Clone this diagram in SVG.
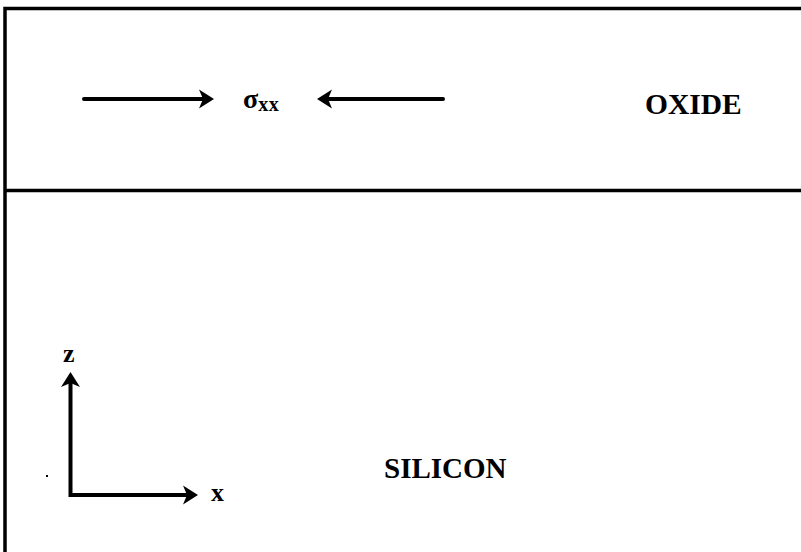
<svg xmlns="http://www.w3.org/2000/svg" width="801" height="552" viewBox="0 0 801 552">
  <style>
    .frame { stroke: #000; stroke-width: 3.5; fill: none; }
    .shaft { stroke: #000; stroke-width: 4; fill: none; stroke-linecap: round; }
    .head { fill: #000; }
    .label { font-family: "Liberation Serif", "Times New Roman", serif; font-weight: bold; fill: #000; }
  </style>
  <rect width="801" height="552" fill="#fff"/>

  <!-- layer boundaries -->
  <g id="layers">
    <path class="frame" d="M5,552 V8.5 H801"/>
    <path class="frame" d="M5,190.5 H801"/>
  </g>

  <g id="oxide">
    <text class="label" x="645" y="114" font-size="29.5">OXIDE</text>
  </g>

  <g id="silicon">
    <text class="label" x="384" y="478" font-size="29">SILICON</text>
  </g>

  <g id="stress">
    <text x="243" y="108" font-family="Liberation Serif, serif" font-size="28" font-weight="bold" fill="#000">σ<tspan font-size="20" dy="3" letter-spacing="0.5">xx</tspan></text>
  </g>

  <g id="connectors">
    <!-- compressive stress arrows in the oxide -->
    <line class="shaft" x1="84" y1="99" x2="205" y2="99"/>
    <path class="head" d="M214,99 L199,89.5 L203,99 L199,108.5 Z"/>
    <line class="shaft" x1="326" y1="99" x2="443" y2="99"/>
    <path class="head" d="M317,99 L332,89.5 L328,99 L332,108.5 Z"/>
    <!-- coordinate axes -->
    <path class="shaft" d="M70.5,382 V495 H190" stroke-linecap="butt" stroke-linejoin="miter"/>
    <path class="head" d="M70.5,372 L61,387 L70.5,383 L80,387 Z"/>
    <path class="head" d="M198,495 L183,485.5 L187,495 L183,504.5 Z"/>
  </g>

  <g id="axis-z">
    <text class="label" x="63" y="362" font-size="26">z</text>
  </g>
  <g id="axis-x">
    <text class="label" x="211" y="501" font-size="26">x</text>
  </g>

  <rect x="46" y="475" width="2" height="2" fill="#000"/>
</svg>
